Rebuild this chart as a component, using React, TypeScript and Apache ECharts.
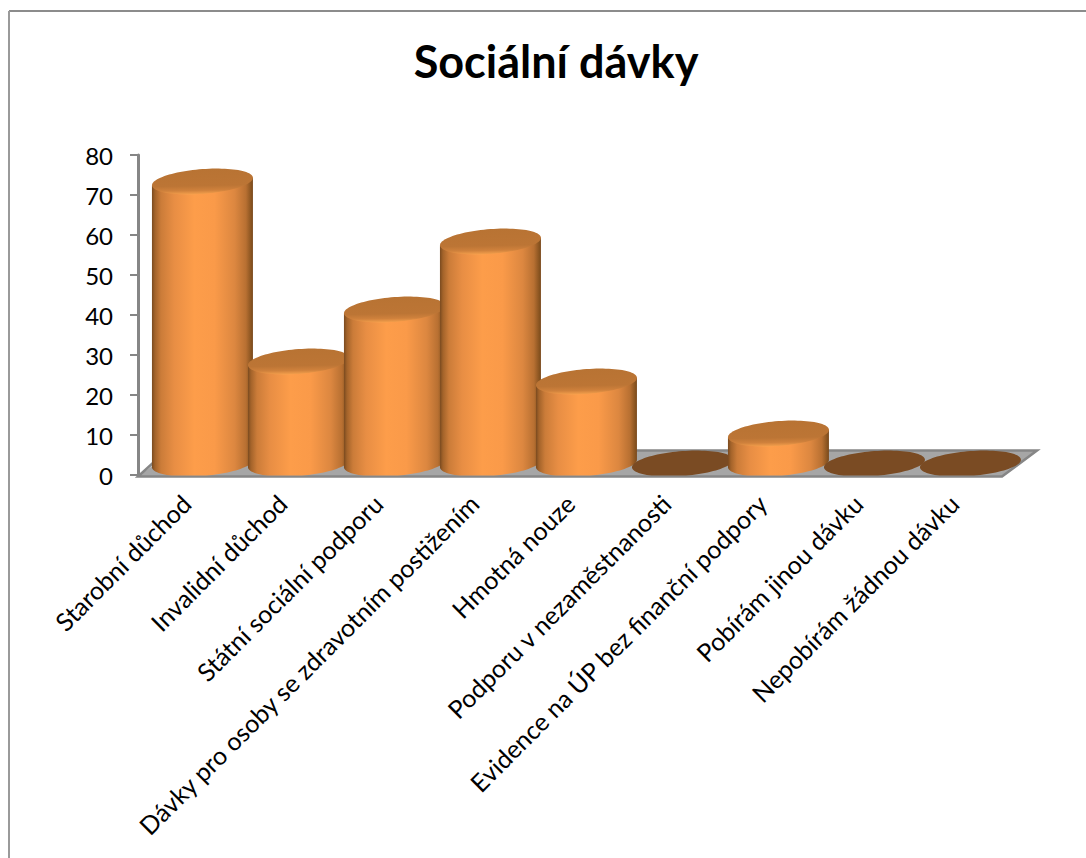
import React, { useEffect, useRef } from "react";
import * as echarts from "echarts";

const categories = [
  "Starobní důchod",
  "Invalidní důchod",
  "Státní sociální podporu",
  "Dávky pro osoby se zdravotním postižením",
  "Hmotná nouze",
  "Podporu v nezaměstnanosti",
  "Evidence na ÚP bez finanční podpory",
  "Pobírám jinou dávku",
  "Nepobírám žádnou dávku",
];
const values = [70, 25, 38, 55, 20, 0, 7, 0, 0];
const chartTitle = "Sociální dávky";
const fontFamily = "Lato, Carlito, sans-serif";

const DEPTH_X = 35;
const DEPTH_Y = 26;

// Ellipse of a cylinder cap seen in oblique projection (a sheared circle).
function capPoints(cx: number, cy: number, a: number, b: number, shear: number, floorY = Infinity) {
  const pts: number[][] = [];
  for (let i = 0; i < 96; i++) {
    const t = (i / 96) * Math.PI * 2;
    pts.push([cx + a * Math.cos(t), Math.min(floorY, cy + b * Math.sin(t) - shear * Math.cos(t))]);
  }
  return pts;
}

function bodyPoints(cx: number, topY: number, botY: number, a: number, b: number, shear: number, floorY: number) {
  const pts: number[][] = [];
  for (let i = 0; i <= 48; i++) {
    const t = (i / 48) * Math.PI;
    pts.push([cx + a * Math.cos(t), Math.min(floorY, botY + b * Math.sin(t) - shear * Math.cos(t))]);
  }
  pts.push([cx - a, topY + shear]);
  pts.push([cx + a, topY - shear]);
  return pts;
}

const bodyFill = new echarts.graphic.LinearGradient(0, 0, 1, 0, [
  { offset: 0, color: "#7a4a1f" },
  { offset: 0.03, color: "#a3632a" },
  { offset: 0.09, color: "#cb7c39" },
  { offset: 0.22, color: "#e88e44" },
  { offset: 0.42, color: "#fd9d4a" },
  { offset: 0.62, color: "#fa9a49" },
  { offset: 0.82, color: "#dc8740" },
  { offset: 0.93, color: "#b87032" },
  { offset: 0.985, color: "#86521f" },
  { offset: 1, color: "#7a4a1f" },
]);

const capFill = new echarts.graphic.LinearGradient(0.46, 0, 0.54, 1, [
  { offset: 0, color: "#b87333" },
  { offset: 0.66, color: "#bc7535" },
  { offset: 0.84, color: "#cf813c" },
  { offset: 0.96, color: "#ee9a49" },
  { offset: 1, color: "#f8a44f" },
]);

const renderFloor = (_: any, api: any) => {
  const band = api.size([1, 0])[0];
  const [x0, y0] = api.coord([0, 0]);
  const [x8] = api.coord([categories.length - 1, 0]);
  const left = x0 - band / 2;
  const right = x8 + band / 2;
  const front = y0 + 1.5;
  return {
    type: "group",
    children: [
      {
        type: "polygon",
        shape: {
          points: [
            [left, front],
            [right, front],
            [right + DEPTH_X, front - DEPTH_Y],
            [left + DEPTH_X, front - DEPTH_Y],
          ],
        },
        style: { fill: "#a6a6a6" },
      },
      {
        type: "polyline",
        shape: {
          points: [
            [left + DEPTH_X * 0.45, front - DEPTH_Y * 0.55],
            [left, front],
            [right, front],
            [right + DEPTH_X, front - DEPTH_Y],
            [left + DEPTH_X, front - DEPTH_Y],
          ],
        },
        style: { fill: "none", stroke: "#868686", lineWidth: 2.5 },
      },
    ],
  };
};

const renderCylinder = (params: any, api: any) => {
  const i = api.value(0);
  const v = api.value(1);
  const band = api.size([1, 0])[0];
  const [bx, by] = api.coord([i, 0]);
  const [, ty] = api.coord([i, v]);
  const cx = bx + DEPTH_X * 0.47;
  const a = band * 0.526;
  const b = 12.4;
  const shear = 3.7;
  const baseShift = 11.5;
  const topShift = 13.5;
  const floorY = by + 0.5;
  if (v === 0) {
    return {
      type: "polygon",
      shape: { points: capPoints(cx, by - baseShift, a, b, shear, floorY) },
      style: { fill: "#7a4b23" },
    };
  }
  return {
    type: "group",
    children: [
      {
        type: "polygon",
        shape: { points: bodyPoints(cx, ty - topShift, by - baseShift, a, b, shear, floorY) },
        style: { fill: bodyFill },
      },
      {
        type: "polygon",
        shape: { points: capPoints(cx, ty - topShift, a, b, shear) },
        style: { fill: capFill },
      },
    ],
  };
};

export default function App() {
  const ref = useRef<HTMLDivElement>(null);
  useEffect(() => {
    if (!ref.current) return;
    const chart = echarts.init(ref.current, undefined, { renderer: "svg" });
    chart.setOption({
      animation: false,
      backgroundColor: "#ffffff",
      title: {
        text: chartTitle,
        left: 551,
        top: 33,
        textAlign: "center",
        textStyle: { fontFamily, fontWeight: "bold", fontSize: 45, color: "#000000" },
      },
      grid: { left: 138, top: 155, width: 864, height: 320 },
      xAxis: {
        type: "category",
        data: categories,
        axisLine: { show: false },
        axisTick: { show: false },
        axisLabel: {
          interval: 0,
          rotate: 45,
          margin: 24,
          fontFamily,
          fontSize: 25,
          color: "#000000",
        },
      },
      yAxis: {
        type: "value",
        min: 0,
        max: 80,
        interval: 10,
        splitLine: { show: false },
        axisLine: { show: true, lineStyle: { color: "#868686", width: 3 } },
        axisTick: { show: true, length: 8, lineStyle: { color: "#868686", width: 2 } },
        axisLabel: { margin: 25, fontFamily, fontSize: 24, color: "#000000" },
      },
      graphic: [
        { type: "line", shape: { x1: 9, y1: 11, x2: 1086, y2: 11 }, style: { stroke: "#8c8c8c", lineWidth: 2 }, silent: true },
        { type: "line", shape: { x1: 9, y1: 11, x2: 9, y2: 858 }, style: { stroke: "#9a9a9a", lineWidth: 2 }, silent: true },
      ],
      series: [
        { type: "custom", data: [[0, 0]], renderItem: renderFloor, clip: false, silent: true, z: 1 },
        {
          type: "custom",
          data: values.map((v, i) => [i, v]),
          encode: { x: 0, y: 1 },
          renderItem: renderCylinder,
          clip: false,
          silent: true,
          z: 2,
        },
      ],
    });
    return () => chart.dispose();
  }, []);
  return <div ref={ref} style={{ position: "absolute", left: 0, top: 0, width: 1086, height: 858 }} />;
}
